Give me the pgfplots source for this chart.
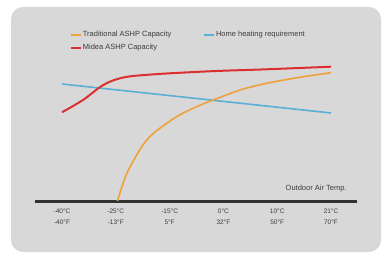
\documentclass[border=0pt]{standalone}
\usepackage{pgfplots}
\pgfplotsset{compat=1.18}
\usepackage{fontspec}
\setmainfont{Liberation Sans}
\definecolor{cardgray}{RGB}{216,216,216}
\definecolor{axisdark}{RGB}{50,50,50}
\definecolor{txtgray}{RGB}{60,60,60}
\definecolor{ashporange}{RGB}{240,160,60}
\definecolor{mideared}{RGB}{218,48,48}
\definecolor{homeblue}{RGB}{90,175,215}
\begin{document}
\begin{tikzpicture}[x=1pt,y=1pt]
\fill[white] (0,0) rectangle (382,254);
\fill[cardgray, rounded corners=12pt] (11,2) rectangle (381,247);
\begin{axis}[
  at={(35pt,53pt)}, anchor=south west,
  scale only axis, width=322pt, height=190pt,
  xmin=-0.502, xmax=5.483, ymin=0, ymax=190,
  axis x line*=bottom, axis y line=none,
  x axis line style={line width=3pt, color=axisdark},
  ytick=\empty,
  xtick={0,1,2,3,4,5},
  xticklabels={{-40°C\\-40°F},{-25°C\\-13°F},{-15°C\\5°F},{0°C\\32°F},{10°C\\50°F},{21°C\\70°F}},
  major tick length=0pt,
  xticklabel style={align=center, font=\fontsize{6.5}{11}\selectfont, text=txtgray, yshift=-4.5pt},
  legend columns=2,
  legend cell align=left,
  legend style={at={(rel axis cs:0.109,0.91)}, anchor=north west, draw=none, fill=none, inner sep=0pt,
    font=\fontsize{7.5}{9}\selectfont, text=txtgray,
    /tikz/every even column/.append style={column sep=31pt},
    nodes={inner sep=1pt, minimum height=13pt}},
  legend image code/.code={\draw[#1] (0pt,0pt) -- (10pt,0pt);},
]
\addlegendimage{ashporange, line width=1.6pt}
\addlegendentry{Traditional ASHP Capacity}
\addlegendimage{homeblue, line width=1.6pt}
\addlegendentry{Home heating requirement}
\addlegendimage{mideared, line width=1.6pt}
\addlegendentry{Midea ASHP Capacity}

\addplot[forget plot, homeblue, line width=1.6pt] coordinates {(0,117) (5,88)};
\addplot[forget plot, ashporange, line width=1.6pt, smooth] coordinates {(1.03,0) (1.20,27) (1.48,54) (1.70,67.7) (2.13,84.3) (2.50,94.3) (2.81,101) (3.31,111) (3.80,117.7) (4.42,123.7) (5,128.3)};
\addplot[forget plot, mideared, line width=2pt, smooth] coordinates {(0,88.7) (0.39,101) (0.70,113.7) (0.89,119.3) (1.08,122.7) (1.32,125) (1.94,127.5) (2.87,130) (3.80,131.7) (5,134.3)};

\node[font=\fontsize{7.5}{9}\selectfont, text=txtgray] at (rel axis cs:0.873,0.068) {Outdoor Air Temp.};
\end{axis}
\end{tikzpicture}
\end{document}
